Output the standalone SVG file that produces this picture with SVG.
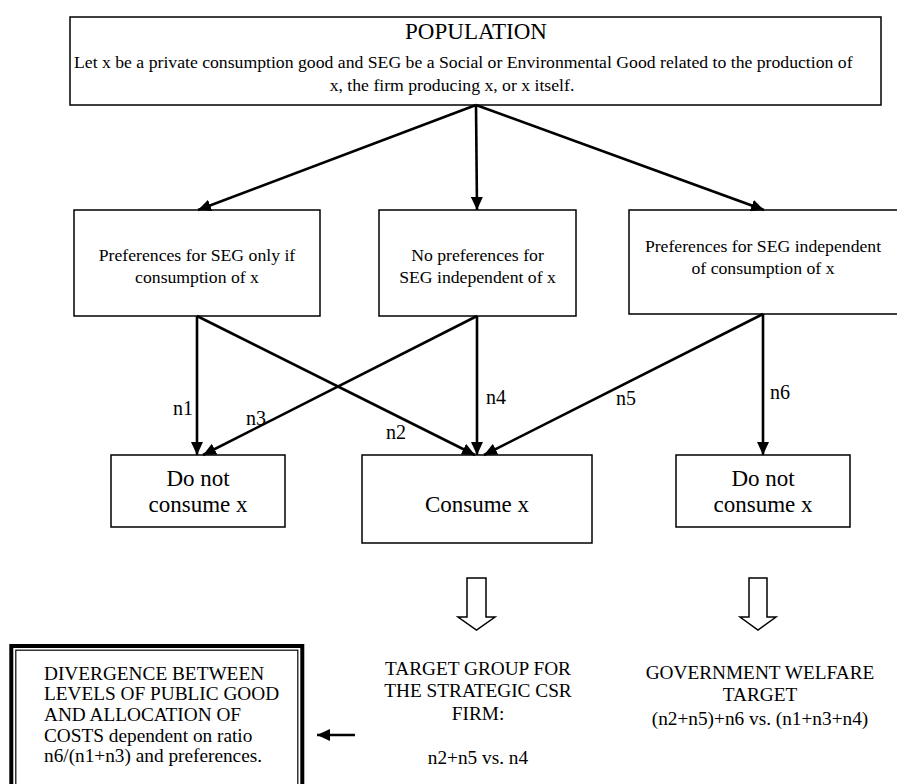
<svg xmlns="http://www.w3.org/2000/svg" width="897" height="784" viewBox="0 0 897 784">
<style>
text{font-family:"Liberation Serif","Times New Roman",serif;fill:#000}
.box{fill:#fff;stroke:#000;stroke-width:1.5}
.t17{font-size:17.7px}
.t23{font-size:23px}
.t19{font-size:19.3px}
.lbl{font-size:20px}
.c{text-anchor:middle}
.con{stroke:#000;stroke-width:2.6;fill:none}
.hollow{fill:#fff;stroke:#000;stroke-width:1.5;stroke-linejoin:miter}
</style>
<defs>
<marker id="ah" markerUnits="userSpaceOnUse" markerWidth="14" markerHeight="12" refX="13" refY="6" orient="auto">
<path d="M0,0 L13,6 L0,12 z" fill="#000"/>
</marker>
</defs>

<g id="population">
<rect class="box" x="70" y="17" width="811" height="88"/>
<text class="c" x="476" y="39" font-size="23">POPULATION</text>
<text class="t17" x="74" y="67.5">Let x be a private consumption good and SEG be a Social or Environmental Good related to the production of</text>
<text class="t17 c" x="452" y="90.5">x, the firm producing x, or x itself.</text>
</g>

<g id="pref-only-if">
<rect class="box" x="74" y="210" width="246" height="106"/>
<text class="t17 c" x="197" y="261">Preferences for SEG only if</text>
<text class="t17 c" x="197" y="283">consumption of x</text>
</g>

<g id="no-pref">
<rect class="box" x="379" y="210" width="197" height="106"/>
<text class="t17 c" x="477.5" y="261">No preferences for</text>
<text class="t17 c" x="477.5" y="283">SEG independent of x</text>
</g>

<g id="pref-independent">
<rect class="box" x="629" y="210" width="272" height="104"/>
<text class="t17 c" x="763" y="252">Preferences for SEG independent</text>
<text class="t17 c" x="763" y="274">of consumption of x</text>
</g>

<g id="not-consume-left">
<rect class="box" x="111" y="455" width="174" height="72"/>
<text class="t23 c" x="198" y="485.5">Do not</text>
<text class="t23 c" x="198" y="512">consume x</text>
</g>

<g id="consume">
<rect class="box" x="362" y="455" width="230" height="88"/>
<text class="t23 c" x="477" y="512">Consume x</text>
</g>

<g id="not-consume-right">
<rect class="box" x="676" y="455" width="174" height="72"/>
<text class="t23 c" x="763" y="485.5">Do not</text>
<text class="t23 c" x="763" y="512">consume x</text>
</g>

<g id="divergence">
<rect x="11.3" y="646" width="291" height="200" fill="#fff" stroke="#000" stroke-width="4"/>
<rect x="15.8" y="650.2" width="282" height="200" fill="none" stroke="#000" stroke-width="1.2"/>
<text class="t19" x="44" y="679.5">DIVERGENCE BETWEEN</text>
<text class="t19" x="44" y="700">LEVELS OF PUBLIC GOOD</text>
<text class="t19" x="44" y="720.5">AND ALLOCATION OF</text>
<text class="t19" x="44" y="741.5">COSTS dependent on ratio</text>
<text class="t19" x="44" y="762">n6/(n1+n3) and preferences.</text>
</g>

<g id="target-group">
<text class="t19 c" x="478" y="674.5">TARGET GROUP FOR</text>
<text class="t19 c" x="478" y="696.5">THE STRATEGIC CSR</text>
<text class="t19 c" x="478" y="719.5">FIRM:</text>
<text class="t19 c" x="478" y="764">n2+n5 vs. n4</text>
</g>

<g id="government-target">
<text class="t19 c" x="760" y="678.5">GOVERNMENT WELFARE</text>
<text class="t19 c" x="760" y="700.5">TARGET</text>
<text class="t19 c" x="760" y="724.5">(n2+n5)+n6 vs. (n1+n3+n4)</text>
</g>

<g id="connectors">
<line class="con" x1="476" y1="105" x2="198" y2="210" marker-end="url(#ah)"/>
<line class="con" x1="476" y1="105" x2="477" y2="210" marker-end="url(#ah)"/>
<line class="con" x1="476" y1="105" x2="764" y2="210" marker-end="url(#ah)"/>
<line class="con" x1="197" y1="316" x2="197" y2="455" marker-end="url(#ah)"/>
<line class="con" x1="197" y1="316" x2="475" y2="455" marker-end="url(#ah)"/>
<line class="con" x1="477" y1="316" x2="203" y2="455" marker-end="url(#ah)"/>
<line class="con" x1="477" y1="316" x2="477" y2="455" marker-end="url(#ah)"/>
<line class="con" x1="763" y1="314" x2="484" y2="455" marker-end="url(#ah)"/>
<line class="con" x1="763" y1="314" x2="763" y2="455" stroke-width="2" marker-end="url(#ah)"/>
<line class="con" x1="355" y1="735" x2="317" y2="735" stroke-width="2.2" marker-end="url(#ah)"/>
<path class="hollow" d="M467,578 L486,578 L486,617 L495,617 L476.5,630 L458,617 L467,617 Z"/>
<path class="hollow" d="M749,578 L767,578 L767,617 L776,617 L758,630 L740,617 L749,617 Z"/>
<text class="lbl c" x="183" y="415">n1</text>
<text class="lbl c" x="256" y="425">n3</text>
<text class="lbl c" x="396" y="439">n2</text>
<text class="lbl c" x="496" y="404">n4</text>
<text class="lbl c" x="626" y="405">n5</text>
<text class="lbl c" x="780" y="399">n6</text>
</g>
</svg>
